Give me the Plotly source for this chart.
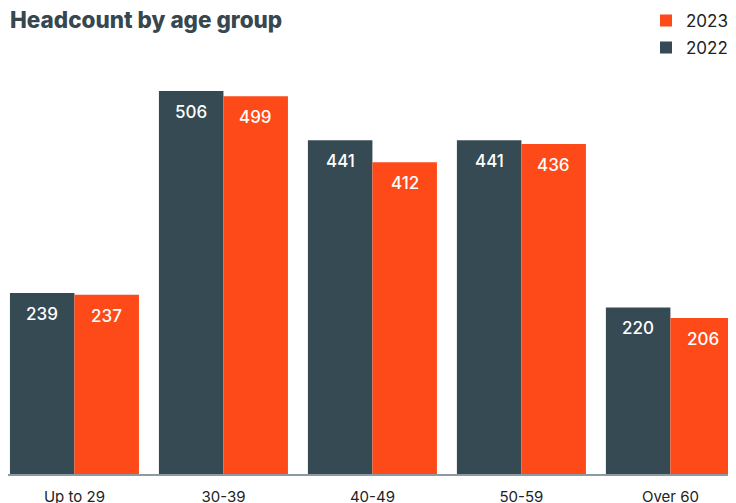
import plotly.graph_objects as go

# Datos
age_groups = ["Up to 29", "30-39", "40-49", "50-59", "Over 60"]
headcount_2022 = [239, 506, 441, 441, 220]
headcount_2023 = [237, 499, 412, 436, 206]

DARK = "#354a53"
ORANGE = "#fd4a18"

fig = go.Figure()

fig.add_trace(go.Bar(
    x=age_groups, y=headcount_2022, name="2022", legendgroup="b",
    legendrank=2, marker_color=DARK, marker_line_width=0,
))
fig.add_trace(go.Bar(
    x=age_groups, y=headcount_2023, name="2023", legendgroup="a",
    legendrank=1, marker_color=ORANGE, marker_line_width=0,
))

# Etiquetas de valor dentro de las barras
for ys, off in ((headcount_2022, -0.2165), (headcount_2023, 0.2165)):
    for i, val in enumerate(ys):
        fig.add_annotation(
            x=i + off, y=val, text=str(val), showarrow=False,
            yshift=-21,
            font=dict(color="white", size=17, family="Inter", weight=500),
        )

# La página tiene 8 px de margen en el body: todo se coloca 8 px antes
fig.update_layout(
    width=736, height=503,
    margin=dict(l=0, r=0, t=52, b=37, autoexpand=False),
    plot_bgcolor="white", paper_bgcolor="white",
    barmode="group", bargap=0.134, bargroupgap=0,
    title=dict(
        text="Headcount by age group",
        x=2 / 736, xanchor="left", y=1 - 12 / 503, yanchor="middle",
        font=dict(size=22.5, color="#37474f", family="Inter", weight=800),
    ),
    legend=dict(
        x=638 / 736, xanchor="left", y=1.138, yanchor="top",
        traceorder="grouped", tracegroupgap=2,
        font=dict(size=17, color="#222", family="Inter"),
        itemwidth=30,
    ),
    showlegend=True,
)

fig.update_xaxes(
    range=[-0.446, 4.494], showline=True, linecolor="#8a9ba3", linewidth=2,
    ticklabelstandoff=8, automargin=False,
    tickfont=dict(size=15, color="#222", family="Inter"),
    showgrid=False,
)
fig.update_yaxes(range=[0, 547], visible=False, showgrid=False)

fig.write_html("out.html")
